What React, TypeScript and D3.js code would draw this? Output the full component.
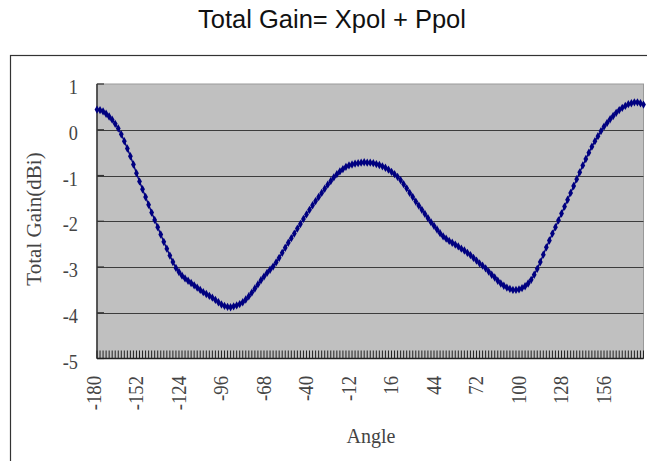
import { useEffect, useRef } from "react";
import * as d3 from "d3";

// angle categories, one every 2 degrees
const angles = d3.range(-180, 181, 2);

// total gain (dBi), one per angle
const gain = [
  0.44, 0.43, 0.40, 0.35, 0.29, 0.22, 0.13, 0.03, -0.10, -0.25,
  -0.41, -0.58, -0.76, -0.95, -1.13, -1.30, -1.47, -1.64, -1.81, -1.97,
  -2.13, -2.29, -2.45, -2.60, -2.75, -2.89, -3.02, -3.11, -3.19, -3.25,
  -3.30, -3.35, -3.40, -3.45, -3.50, -3.55, -3.59, -3.63, -3.67, -3.72,
  -3.77, -3.82, -3.85, -3.87, -3.88, -3.86, -3.84, -3.81, -3.77, -3.71,
  -3.64, -3.56, -3.47, -3.38, -3.29, -3.21, -3.13, -3.06, -2.99, -2.90,
  -2.80, -2.69, -2.58, -2.47, -2.37, -2.27, -2.16, -2.06, -1.95, -1.85,
  -1.75, -1.65, -1.56, -1.47, -1.38, -1.29, -1.20, -1.12, -1.04, -0.97,
  -0.91, -0.86, -0.81, -0.78, -0.76, -0.74, -0.73, -0.72, -0.71, -0.72,
  -0.72, -0.73, -0.75, -0.77, -0.80, -0.83, -0.87, -0.92, -0.97, -1.03,
  -1.10, -1.19, -1.28, -1.38, -1.47, -1.57, -1.66, -1.75, -1.84, -1.93,
  -2.02, -2.10, -2.18, -2.26, -2.33, -2.38, -2.43, -2.47, -2.51, -2.55,
  -2.60, -2.64, -2.69, -2.74, -2.80, -2.86, -2.92, -2.97, -3.03, -3.10,
  -3.17, -3.23, -3.30, -3.36, -3.41, -3.45, -3.48, -3.50, -3.50, -3.49,
  -3.46, -3.42, -3.36, -3.28, -3.17, -3.04, -2.89, -2.73, -2.57, -2.42,
  -2.27, -2.13, -1.98, -1.83, -1.68, -1.53, -1.38, -1.23, -1.08, -0.93,
  -0.78, -0.64, -0.50, -0.37, -0.25, -0.14, -0.03, 0.07, 0.15, 0.23,
  0.30, 0.37, 0.43, 0.48, 0.52, 0.56, 0.58, 0.60, 0.60, 0.58,
  0.55,
];

const xTickLabels = [-180, -152, -124, -96, -68, -40, -12, 16, 44, 72, 100, 128, 156];
const yTicks = [1, 0, -1, -2, -3, -4, -5];

const App = () => {
  const ref = useRef<SVGSVGElement>(null);

  useEffect(() => {
    const width = 647, height = 461;
    const left = 97, right = 643.5, top = 84, bottom = 358.5;
    const serif = "'Liberation Serif', 'Times New Roman', serif";
    const textColor = "#444";

    const svg = d3.select(ref.current)
      .html("")
      .attr("width", width)
      .attr("height", height);

    const data = angles.slice(0, gain.length).map((a, i) => ({ a, v: gain[i] }));

    const x = d3.scaleLinear().domain([-180, 180]).range([left, right]);
    const y = d3.scaleLinear().domain([-5, 1]).range([bottom, top]);

    svg.append("rect")
      .attr("width", width).attr("height", height)
      .attr("fill", "#fff");

    // outer chart frame (runs off the right and bottom edges)
    svg.append("rect")
      .attr("x", 10.5).attr("y", 55.5)
      .attr("width", 700).attr("height", 500)
      .attr("fill", "none")
      .attr("stroke", "#333")
      .attr("stroke-width", 1.2);

    svg.append("text")
      .attr("x", 332)
      .attr("y", 28)
      .attr("text-anchor", "middle")
      .style("font-family", "'Liberation Sans', Arial, sans-serif")
      .style("font-size", "25.5px")
      .attr("fill", "#111")
      .text("Total Gain= Xpol + Ppol");

    // plot area
    svg.append("rect")
      .attr("x", left).attr("y", top)
      .attr("width", right - left).attr("height", bottom - top)
      .attr("fill", "#c0c0c0")
      .attr("stroke", "#999")
      .attr("stroke-width", 1);

    // gridlines
    svg.append("g")
      .selectAll("line")
      .data(yTicks.filter(t => t < 1 && t > -5))
      .join("line")
      .attr("x1", left).attr("x2", right)
      .attr("y1", d => Math.round(y(d)) + 0.5)
      .attr("y2", d => Math.round(y(d)) + 0.5)
      .attr("stroke", "#3c3c3c")
      .attr("stroke-width", 1.2);

    // y axis line + inside ticks
    svg.append("line")
      .attr("x1", left).attr("x2", left)
      .attr("y1", top).attr("y2", bottom)
      .attr("stroke", "#333").attr("stroke-width", 1.5);
    svg.append("g")
      .selectAll("line")
      .data(yTicks)
      .join("line")
      .attr("x1", left).attr("x2", left + 7)
      .attr("y1", d => y(d)).attr("y2", d => y(d))
      .attr("stroke", "#333").attr("stroke-width", 1.2);

    // x axis line + dense inside ticks
    svg.append("line")
      .attr("x1", left).attr("x2", right)
      .attr("y1", bottom).attr("y2", bottom)
      .attr("stroke", "#222").attr("stroke-width", 1.5);
    svg.append("g")
      .selectAll("line")
      .data(angles)
      .join("line")
      .attr("x1", d => x(d)).attr("x2", d => x(d))
      .attr("y1", bottom - 8).attr("y2", bottom)
      .attr("stroke", "#222")
      .attr("stroke-width", 1);

    // y tick labels
    svg.append("g")
      .selectAll("text")
      .data(yTicks)
      .join("text")
      .attr("transform", d => `translate(78, ${y(d) + 2.5}) scale(0.83, 1)`)
      .attr("text-anchor", "end")
      .attr("dominant-baseline", "central")
      .style("font-family", serif)
      .style("font-size", "22px")
      .attr("fill", textColor)
      .text(d => d);

    // x tick labels, rotated
    svg.append("g")
      .selectAll("text")
      .data(xTickLabels)
      .join("text")
      .attr("transform", d => `translate(${x(d) - 4}, 376) rotate(-90) scale(0.85, 1)`)
      .attr("text-anchor", "end")
      .attr("dominant-baseline", "central")
      .style("font-family", serif)
      .style("font-size", "22px")
      .attr("fill", textColor)
      .text(d => d);

    svg.append("text")
      .attr("transform", "translate(41, 219) rotate(-90)")
      .attr("text-anchor", "middle")
      .style("font-family", serif)
      .style("font-size", "21px")
      .attr("fill", textColor)
      .text("Total Gain(dBi)");

    svg.append("text")
      .attr("x", 371)
      .attr("y", 443)
      .attr("text-anchor", "middle")
      .style("font-family", serif)
      .style("font-size", "20px")
      .attr("fill", textColor)
      .text("Angle");

    // series
    const line = d3.line<{ a: number; v: number }>()
      .x(d => x(d.a))
      .y(d => y(d.v));

    svg.append("path")
      .datum(data)
      .attr("d", line)
      .attr("fill", "none")
      .attr("stroke", "#000080")
      .attr("stroke-width", 1.4);

    const diamond = d3.symbol().type(d3.symbolDiamond).size(20);
    svg.append("g")
      .selectAll("path")
      .data(data)
      .join("path")
      .attr("transform", d => `translate(${x(d.a)}, ${y(d.v)})`)
      .attr("d", diamond)
      .attr("fill", "#000080");
  }, []);

  return <svg ref={ref} style={{ position: "absolute", left: 0, top: 0 }}></svg>;
};

export default App;
